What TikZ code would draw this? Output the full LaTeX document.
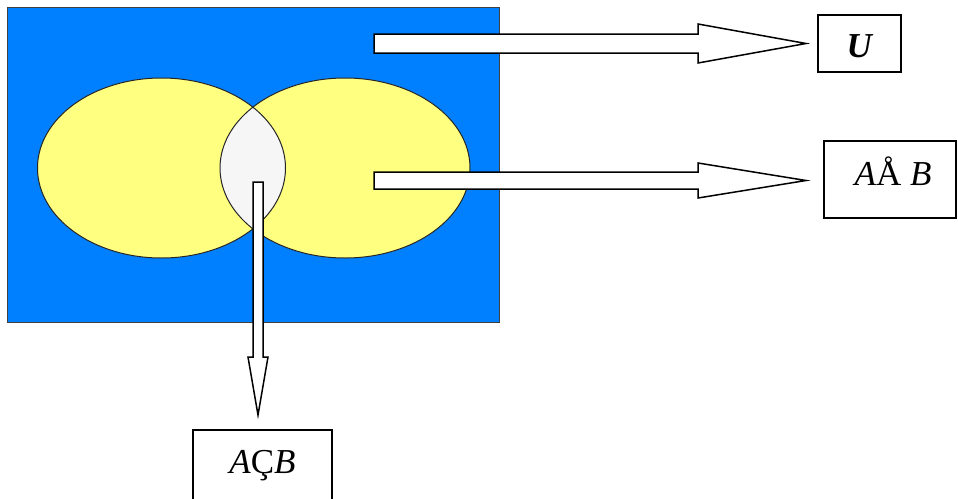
\documentclass[tikz,border=0pt]{standalone}
\usepackage{fontspec}
\setmainfont{Liberation Serif}
\usetikzlibrary{calc}
\definecolor{bgblue}{RGB}{0,128,255}
\definecolor{setyellow}{RGB}{255,255,128}
\definecolor{lensfill}{RGB}{246,246,246}
\tikzset{
  blockarrow/.style={draw=black, fill=white, line width=1.5pt, line join=miter},
  labelbox/.style={draw=black, line width=2pt, fill=white, inner sep=0pt},
  labeltext/.style={anchor=base, inner sep=0pt, font=\fontsize{35}{40}\selectfont},
  setedge/.style={draw=black!85, line width=1pt}
}
\begin{document}
\begin{tikzpicture}[x=1pt,y=-1pt]
\useasboundingbox (0,0) rectangle (958,498);
% universe
\node[draw=black!75, line width=1pt, fill=bgblue, minimum width=492pt, minimum height=315pt, inner sep=0pt] (univ) at (253,164.5) {};
% sets
\fill[setyellow] (161.5,168) ellipse [x radius=124, y radius=90];
\fill[setyellow] (345,168) ellipse [x radius=125, y radius=90];
\begin{scope}
  \clip (161.5,168) ellipse [x radius=124, y radius=90];
  \fill[lensfill] (345,168) ellipse [x radius=125, y radius=90];
\end{scope}
\draw[setedge] (161.5,168) ellipse [x radius=124, y radius=90];
\draw[setedge] (345,168) ellipse [x radius=125, y radius=90];
% label boxes
\node[labelbox, minimum width=83pt, minimum height=57pt] (boxU) at (859.5,43.5) {};
\node[labelbox, minimum width=132pt, minimum height=77pt] (boxAB) at (890,179.5) {};
\node[labelbox, minimum width=139pt, minimum height=80pt] (boxAnB) at (262.5,470) {};
\node[labeltext] (tU) at (860,57) {\textbf{\textit{U}}};
\node[labeltext] (tAB) at (893,185) {\textit{A}Å \textit{B}};
\node[labeltext] (tAnB) at (262.5,473) {\textit{A}Ç\textit{B}};
% arrow 1
\coordinate (s1) at (374,43.5);
\coordinate (t1) at (806,43.5);
\draw[blockarrow] ($(s1)+(0,-9.5)$) -- ($(t1)+(-108,-9.5)$) -- ($(t1)+(-108,-19.5)$) -- (t1)
  -- ($(t1)+(-108,19.5)$) -- ($(t1)+(-108,9.5)$) -- ($(s1)+(0,9.5)$) -- cycle;
% arrow 2
\coordinate (s2) at (374,180.5);
\coordinate (t2) at (806,180.5);
\draw[blockarrow] ($(s2)+(0,-8.5)$) -- ($(t2)+(-108,-8.5)$) -- ($(t2)+(-108,-17.5)$) -- (t2)
  -- ($(t2)+(-108,17.5)$) -- ($(t2)+(-108,8.5)$) -- ($(s2)+(0,8.5)$) -- cycle;
% arrow 3
\coordinate (s3) at (258,182);
\coordinate (t3) at (258,415);
\draw[blockarrow] ($(s3)+(-5,0)$) -- ($(t3)+(-5,-58)$) -- ($(t3)+(-10,-58)$) -- (t3)
  -- ($(t3)+(10,-58)$) -- ($(t3)+(5,-58)$) -- ($(s3)+(5,0)$) -- cycle;
\end{tikzpicture}
\end{document}
